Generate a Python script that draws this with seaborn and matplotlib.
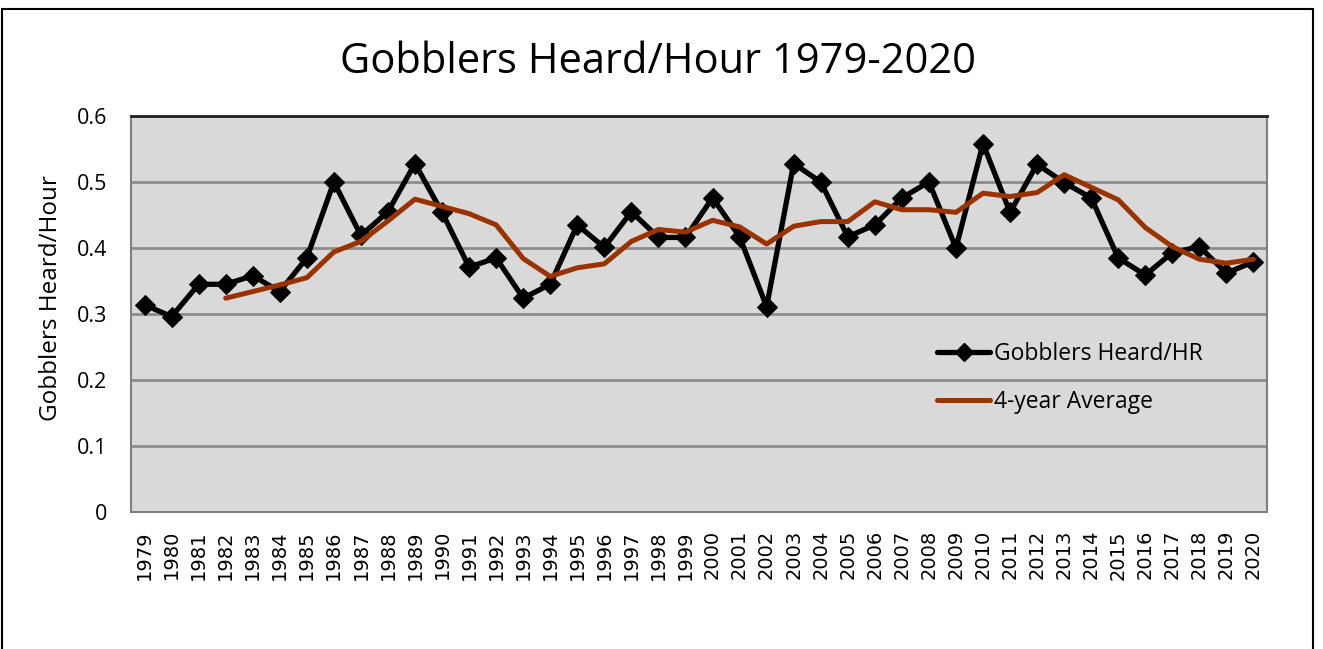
import matplotlib
matplotlib.use("Agg")
import matplotlib.pyplot as plt
import seaborn as sns
import numpy as np
import pandas as pd
from matplotlib.patches import Rectangle
from matplotlib.lines import Line2D

years = list(range(1979, 2021))
gobblers = [0.314, 0.296, 0.345, 0.345, 0.358, 0.334, 0.385, 0.500, 0.419, 0.455,
            0.528, 0.454, 0.371, 0.385, 0.324, 0.345, 0.435, 0.401, 0.455, 0.416,
            0.416, 0.476, 0.417, 0.311, 0.528, 0.500, 0.417, 0.435, 0.476, 0.500,
            0.400, 0.558, 0.454, 0.527, 0.499, 0.476, 0.385, 0.359, 0.393, 0.402,
            0.362, 0.379]
avg4 = [np.nan, np.nan, np.nan, 0.324, 0.334, 0.344, 0.355, 0.394, 0.410, 0.441,
        0.474, 0.463, 0.452, 0.435, 0.384, 0.357, 0.370, 0.376, 0.410, 0.428,
        0.424, 0.442, 0.432, 0.406, 0.433, 0.440, 0.440, 0.470, 0.458, 0.458,
        0.454, 0.483, 0.478, 0.484, 0.511, 0.492, 0.473, 0.431, 0.402, 0.383,
        0.377, 0.383]
title = "Gobblers Heard/Hour 1979-2020"
ylabel = "Gobblers Heard/Hour"
series_names = ["Gobblers Heard/HR", "4-year Average"]
ytick_labels = ["0", "0.1", "0.2", "0.3", "0.4", "0.5", "0.6"]

df = pd.DataFrame({"Year": years, "Gobblers": gobblers, "Avg": avg4})

sns.set_style("white")
plt.rcParams['font.family'] = ['Open Sans', 'DejaVu Sans']
plt.rcParams['text.color'] = 'black'

BROWN = "#9a3300"

fig = plt.figure(figsize=(13.23, 6.49), dpi=100)
ax = fig.add_axes([131/1323, 1 - 512/649, (1267 - 131)/1323, (512 - 116)/649])
ax.set_facecolor("#d9d9d9")

# outer chart border
fig.patches.append(Rectangle((2/1323, -0.05), (1313 - 2)/1323, 1 - 9/649 + 0.05,
                             transform=fig.transFigure, fill=False,
                             edgecolor="black", linewidth=1.5, zorder=0))

for v in np.arange(0.1, 0.61, 0.1):
    ax.axhline(v, color="#8c8c8c", linewidth=2, zorder=1)

sns.lineplot(data=df, x="Year", y="Gobblers", ax=ax, color="black", linewidth=3.8,
             marker="D", markersize=10.5, markeredgecolor="black", zorder=3,
             legend=False)
sns.lineplot(data=df, x="Year", y="Avg", ax=ax, color=BROWN, linewidth=3.6,
             zorder=4, legend=False)

ax.set_xlim(1978.5, 2020.5)
ax.set_ylim(0, 0.6)
ax.set_yticks(np.round(np.arange(0, 0.61, 0.1), 1))
ax.set_yticklabels(ytick_labels, fontsize=15.5, color="black")
ax.set_xticks(years)
ax.set_xticklabels([str(y) for y in years], rotation=90, fontsize=14,
                   family="DejaVu Sans", color="black")
ax.tick_params(axis="y", length=0, pad=17)
ax.tick_params(axis="x", length=0, pad=13)
ax.set_xlabel("")
ax.set_ylabel("")
fig.text(51/1323, 1 - 298/649, ylabel, rotation=90, ha="center", va="center",
         fontsize=17.5, color="black")

for side in ["left", "right", "bottom"]:
    ax.spines[side].set_color("#808080")
    ax.spines[side].set_linewidth(1.5)
ax.spines["top"].set_color("#202020")
ax.spines["top"].set_linewidth(2)

fig.text(658/1323, 1 - 62/649, title, ha="center", va="center", fontsize=30,
         color="black")

handles = [Line2D([], [], color="black", linewidth=3.8, marker="D", markersize=9),
           Line2D([], [], color=BROWN, linewidth=3.6)]
leg = ax.legend(handles, series_names, loc="upper left",
                bbox_to_anchor=((928 - 131)/1136, (512 - 333)/396),
                frameon=False, fontsize=16.5, handlelength=2.3, handletextpad=0.2,
                labelspacing=1.05, borderaxespad=0)

fig.savefig("out.png", dpi=100)
